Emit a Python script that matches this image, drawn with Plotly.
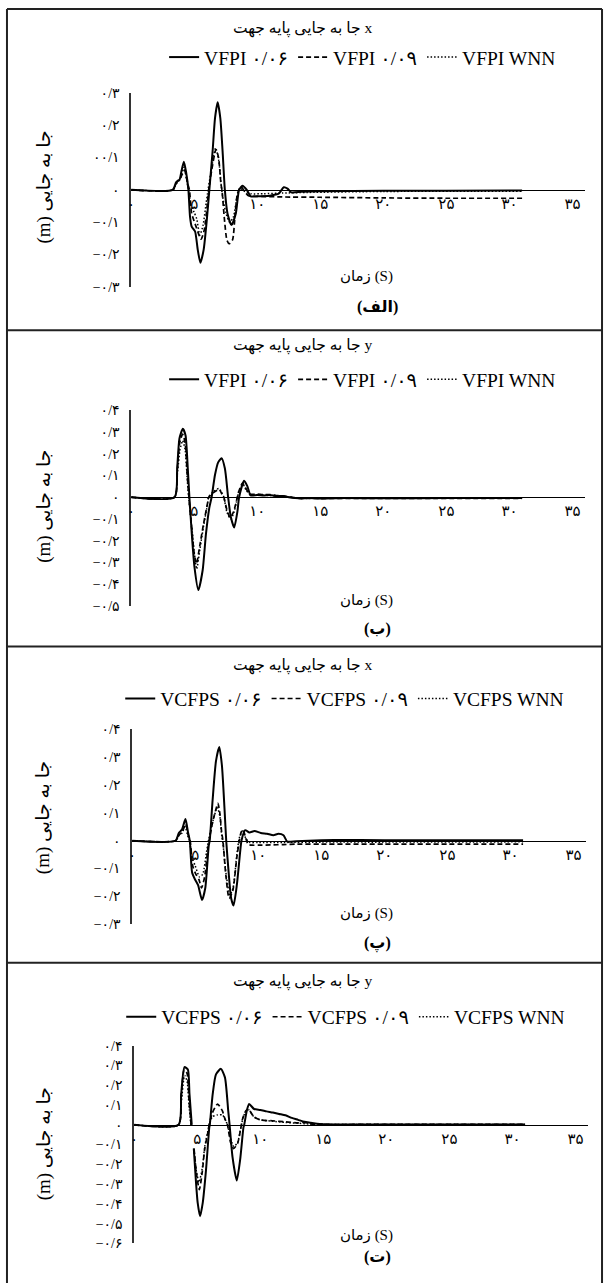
import plotly.graph_objects as go

W, H = 605, 1286

# ---------------- data (time in s, displacement in m) ----------------
# Panel (الف): VFPI, x direction
t1_s = [0, 3.3, 3.57, 3.83, 4.0, 4.18, 4.36, 4.54, 4.67, 4.8, 5.07, 5.28, 5.49, 5.75, 6.02, 6.2, 6.46, 6.65, 6.86, 7.07, 7.25, 7.43, 7.64, 7.96, 8.3, 8.56, 8.83, 9.17, 9.48, 10, 11, 11.7, 12.1, 12.4, 12.7, 13.5, 15, 20, 25, 31]
v1_s = [0, 0, 0.024, 0.031, 0.06, 0.087, 0.054, 0, -0.084, -0.114, -0.129, -0.185, -0.226, -0.185, -0.084, 0, 0.12, 0.222, 0.271, 0.222, 0.12, 0, -0.073, -0.109, -0.073, 0, 0.013, 0, -0.02, -0.02, -0.018, -0.012, 0.008, 0.004, -0.008, -0.006, -0.004, -0.003, -0.003, -0.002]
t1_d = [0, 3.3, 3.7, 3.95, 4.23, 4.49, 4.62, 4.8, 5.15, 5.54, 5.8, 6.02, 6.15, 6.38, 6.72, 6.93, 7.12, 7.2, 7.38, 7.59, 7.77, 8.04, 8.23, 8.43, 8.7, 9.0, 9.3, 10, 12, 15, 20, 25, 31]
v1_d = [0, 0, 0.03, 0.04, 0.061, 0.018, 0, -0.073, -0.114, -0.153, -0.124, -0.053, 0, 0.059, 0.125, 0.1, 0.018, 0, -0.084, -0.155, -0.167, -0.155, -0.084, -0.012, 0.01, -0.005, -0.018, -0.02, -0.022, -0.023, -0.025, -0.026, -0.026]
t1_w = [0, 3.3, 3.6, 3.9, 4.2, 4.4, 4.55, 4.75, 5.0, 5.2, 5.45, 5.7, 5.95, 6.1, 6.35, 6.7, 6.95, 7.15, 7.25, 7.5, 7.8, 8.1, 8.4, 8.65, 9.0, 9.5, 10.5, 12, 14, 20, 31]
v1_w = [0, 0, 0.02, 0.035, 0.07, 0.03, 0, -0.05, -0.07, -0.09, -0.14, -0.11, -0.04, 0, 0.06, 0.13, 0.09, 0.01, -0.02, -0.07, -0.1, -0.085, -0.02, 0.005, -0.005, -0.012, -0.012, -0.01, -0.008, -0.005, -0.004]

# Panel (ب): VFPI, y direction
t2_s = [0, 3.44, 3.65, 3.83, 4.1, 4.31, 4.49, 4.62, 4.81, 5.02, 5.33, 5.67, 5.93, 6.2, 6.38, 6.65, 6.9, 7.17, 7.43, 7.69, 7.9, 8.17, 8.43, 8.56, 8.96, 9.22, 9.48, 10, 10.5, 11, 11.5, 12, 12.5, 13, 13.5, 14, 15, 17, 20, 25, 31]
v2_s = [0, 0, 0.133, 0.27, 0.315, 0.285, 0.133, 0, -0.17, -0.32, -0.427, -0.336, -0.17, -0.048, 0, 0.103, 0.16, 0.179, 0.133, 0, -0.09, -0.139, -0.064, 0, 0.076, 0.05, 0.008, 0.01, 0.008, 0.01, 0.005, 0.006, 0, -0.004, -0.006, -0.004, -0.006, -0.004, -0.005, -0.004, -0.004]
t2_d = [0, 3.44, 3.65, 3.85, 4.08, 4.28, 4.45, 4.58, 4.8, 5.0, 5.18, 5.45, 5.75, 6.05, 6.15, 6.5, 6.98, 7.2, 7.35, 7.6, 7.85, 8.1, 8.3, 8.5, 8.83, 9.1, 9.4, 10, 10.5, 11, 11.5, 12, 12.5, 13, 13.5, 14, 15, 20, 31]
v2_d = [0, 0, 0.12, 0.25, 0.29, 0.25, 0.1, 0, -0.14, -0.26, -0.306, -0.22, -0.12, -0.03, 0, 0.02, 0.035, 0.015, 0, -0.06, -0.094, -0.07, -0.03, 0.02, 0.065, 0.04, 0.015, 0.014, 0.012, 0.012, 0.008, 0.006, 0.002, -0.003, -0.006, -0.005, -0.006, -0.005, -0.005]
t2_w = [0, 3.44, 3.65, 3.88, 4.08, 4.28, 4.45, 4.56, 4.8, 5.0, 5.2, 5.45, 5.75, 6.05, 6.15, 6.5, 6.95, 7.2, 7.35, 7.6, 7.9, 8.15, 8.35, 8.55, 8.85, 9.1, 9.4, 10, 11, 12, 13, 14, 20, 31]
v2_w = [0, 0, 0.1, 0.22, 0.26, 0.22, 0.08, 0, -0.13, -0.25, -0.33, -0.24, -0.13, -0.035, 0, 0.025, 0.04, 0.02, 0, -0.07, -0.1, -0.07, -0.02, 0.03, 0.06, 0.035, 0.012, 0.01, 0.008, 0.004, -0.002, -0.004, -0.004, -0.004]

# Panel (پ): VCFPS, x direction
t3_s = [0, 3.44, 3.7, 3.95, 4.23, 4.44, 4.57, 4.75, 4.96, 5.23, 5.54, 5.8, 6.07, 6.15, 6.38, 6.65, 6.91, 7.12, 7.33, 7.46, 7.65, 7.85, 8.04, 8.3, 8.56, 8.67, 8.96, 9.3, 9.7, 10.2, 10.7, 11.2, 11.6, 12.0, 12.3, 13, 15, 16, 20, 25, 31]
v3_s = [0, 0, 0.028, 0.04, 0.078, 0.028, 0, -0.113, -0.137, -0.16, -0.213, -0.17, -0.019, 0, 0.146, 0.287, 0.337, 0.27, 0.11, 0, -0.113, -0.207, -0.233, -0.16, -0.042, 0, 0.038, 0.03, 0.035, 0.028, 0.025, 0.02, 0.025, 0.02, -0.003, -0.002, 0.002, 0.003, 0.002, 0.002, 0.002]
t3_d = [0, 3.44, 3.7, 3.95, 4.25, 4.45, 4.6, 4.8, 5.05, 5.3, 5.5, 5.75, 6.0, 6.1, 6.4, 6.8, 6.95, 7.1, 7.2, 7.4, 7.69, 7.98, 8.3, 8.5, 8.64, 8.8, 9.0, 9.2, 9.5, 10, 11, 12, 13, 15, 20, 25, 31]
v3_d = [0, 0, 0.02, 0.03, 0.06, 0.02, 0, -0.09, -0.12, -0.14, -0.17, -0.13, -0.03, 0, 0.07, 0.134, 0.1, 0.03, 0, -0.11, -0.207, -0.18, -0.06, 0, 0.03, 0.04, 0.01, -0.013, -0.016, -0.016, -0.015, -0.014, -0.012, -0.012, -0.012, -0.012, -0.012]
t3_w = [0, 3.44, 3.7, 3.95, 4.2, 4.42, 4.55, 4.75, 5.0, 5.35, 5.6, 5.9, 6.05, 6.4, 6.75, 6.95, 7.1, 7.2, 7.45, 7.75, 8.0, 8.3, 8.5, 8.75, 9.0, 9.3, 10, 12, 15, 20, 31]
v3_w = [0, 0, 0.018, 0.028, 0.05, 0.015, 0, -0.06, -0.09, -0.13, -0.12, -0.04, 0, 0.07, 0.12, 0.09, 0.02, -0.01, -0.12, -0.195, -0.17, -0.05, 0.01, 0.035, 0.01, -0.006, -0.006, -0.006, -0.005, -0.005, -0.004]

# Panel (ت): VCFPS, y direction (None = break in the trace)
t4_s = [0, 3.52, 3.73, 3.99, 4.26, 4.39, 4.57, 4.65, 4.73, 4.91, 5.04, 5.23, 5.44, 5.7, 5.96, 6.0, 6.23, 6.49, 6.88, 7.2, 7.46, 7.57, 7.8, 8.14, 8.41, 8.67, 8.73, 8.93, 9.12, 9.51, 10, 10.5, 11, 11.5, 12, 12.5, 13, 13.5, 14, 14.5, 15, 17, 20, 25, 31]
v4_s = [0, 0, 0.155, 0.292, 0.28, 0.155, 0, None, -0.12, -0.295, -0.395, -0.462, -0.395, -0.228, -0.013, 0, 0.155, 0.255, 0.283, 0.24, 0.072, 0, -0.162, -0.282, -0.175, -0.013, 0, 0.07, 0.105, 0.08, 0.075, 0.068, 0.062, 0.055, 0.048, 0.035, 0.025, 0.015, 0.01, 0.005, 0.003, 0.002, 0.002, 0.002, 0.002]
t4_d = [0, 3.52, 3.73, 3.97, 4.2, 4.35, 4.52, 4.65, 4.75, 4.95, 5.17, 5.4, 5.6, 5.83, 5.95, 6.2, 6.62, 7.0, 7.2, 7.4, 7.65, 7.88, 8.2, 8.45, 8.6, 8.85, 9.05, 9.5, 10, 11, 12, 13, 13.5, 14, 15, 20, 31]
v4_d = [0, 0, 0.14, 0.28, 0.26, 0.13, 0, None, -0.12, -0.25, -0.328, -0.24, -0.12, -0.045, 0, 0.06, 0.105, 0.07, 0.03, 0, -0.09, -0.12, -0.095, -0.02, 0.03, 0.07, 0.08, 0.04, 0.025, 0.02, 0.015, 0.01, 0.012, 0.005, 0.002, 0.002, 0.002]
t4_w = [0, 3.52, 3.75, 4.0, 4.2, 4.35, 4.5, 4.65, 4.77, 4.95, 5.15, 5.4, 5.6, 5.85, 5.95, 6.2, 6.6, 7.0, 7.2, 7.4, 7.65, 7.9, 8.2, 8.45, 8.65, 8.9, 9.1, 9.5, 10, 11, 12, 13, 14, 15, 20, 31]
v4_w = [0, 0, 0.12, 0.25, 0.22, 0.1, 0, None, -0.14, -0.24, -0.29, -0.22, -0.11, -0.03, 0, 0.04, 0.05, 0.05, 0.03, 0, -0.07, -0.11, -0.09, -0.02, 0.04, 0.07, 0.075, 0.04, 0.025, 0.018, 0.012, 0.008, 0.004, 0.002, 0.002, 0.002]

# ---------------- labels ----------------
x_tickvals = [0, 5, 10, 15, 20, 25, 30, 35]
x_ticktext = ["۰", "۵", "۱۰", "۱۵", "۲۰", "۲۵", "۳۰", "۳۵"]

y1_vals = [-0.3, -0.2, -0.1, 0, 0.1, 0.2, 0.3]
y1_text = ["−۰/۳", "−۰/۲", "−۰/۱", "۰", "۰۰/۱", "۰/۲", "۰/۳"]
y2_vals = [-0.5, -0.4, -0.3, -0.2, -0.1, 0, 0.1, 0.2, 0.3, 0.4]
y2_text = ["−۰/۵", "−۰/۴", "−۰/۳", "−۰/۲", "−۰/۱", "۰", "۰/۱", "۰/۲", "۰/۳", "۰/۴"]
y3_vals = [-0.3, -0.2, -0.1, 0, 0.1, 0.2, 0.3, 0.4]
y3_text = ["−۰/۳", "−۰/۲", "−۰/۱", "۰", "۰/۱", "۰/۲", "۰/۳", "۰/۴"]
y4_vals = [-0.6, -0.5, -0.4, -0.3, -0.2, -0.1, 0, 0.1, 0.2, 0.3, 0.4]
y4_text = ["−۰/۶", "−۰/۵", "−۰/۴", "−۰/۳", "−۰/۲", "−۰/۱", "۰", "۰/۱", "۰/۲", "۰/۳", "۰/۴"]

titles = ["جا به جایی پایه جهت x", "جا به جایی پایه جهت y",
          "جا به جایی پایه جهت x", "جا به جایی پایه جهت y"]
panel_labels = ["(الف)", "(ب)", "(پ)", "(ت)"]
x_title = "زمان (S)"
y_title = "\u202bجا به جایی (m)\u202c"
names_vfpi = ["VFPI ۰/۰۶", "VFPI ۰/۰۹", "VFPI WNN"]
names_vcfps = ["VCFPS ۰/۰۶", "VCFPS ۰/۰۹", "VCFPS WNN"]

# ---------------- layout geometry (pixels) ----------------
panels = [
    dict(series=[(t1_s, v1_s), (t1_d, v1_d), (t1_w, v1_w)], names=names_vfpi,
         yr=[-0.3, 0.3], yv=y1_vals, yt=y1_text, top=87, bot=283, left=128, right=585,
         title_y=22, legend_y=51, legend_x=361, xt_y=273, lab_y=304, ytitle_y=182),
    dict(series=[(t2_s, v2_s), (t2_d, v2_d), (t2_w, v2_w)], names=names_vfpi,
         yr=[-0.5, 0.4], yv=y2_vals, yt=y2_text, top=408, bot=606, left=128, right=585,
         title_y=342, legend_y=377, legend_x=361, xt_y=600, lab_y=629, ytitle_y=505),
    dict(series=[(t3_s, v3_s), (t3_d, v3_d), (t3_w, v3_w)], names=names_vcfps,
         yr=[-0.3, 0.4], yv=y3_vals, yt=y3_text, top=731, bot=928, left=129, right=586,
         title_y=666, legend_y=700, legend_x=343, xt_y=917, lab_y=948, ytitle_y=820),
    dict(series=[(t4_s, v4_s), (t4_d, v4_d), (t4_w, v4_w)], names=names_vcfps,
         yr=[-0.6, 0.4], yv=y4_vals, yt=y4_text, top=1051, bot=1251, left=131, right=588,
         title_y=986, legend_y=1022, legend_x=344, xt_y=1243, lab_y=1265, ytitle_y=1150),
]

styles = [dict(color="black", width=2.0, dash="solid"),
          dict(color="black", width=1.7, dash="5px,3px"),
          dict(color="black", width=1.5, dash="1.5px,2px")]

FONT = "Liberation Serif, DejaVu Sans, serif"

def px(x):
    return x / W

def py(y):
    return 1 - y / H

fig = go.Figure()
annotations = []
layout = {}

for i, p in enumerate(panels, start=1):
    sfx = "" if i == 1 else str(i)
    leg = "legend" if i == 1 else f"legend{i}"
    for (tt, vv), nm, st in zip(p["series"], p["names"], styles):
        fig.add_trace(go.Scatter(
            x=tt, y=vv, mode="lines", name=nm, legend=leg,
            line=dict(color=st["color"], width=st["width"], dash=st["dash"],
                      shape="spline", smoothing=0.6),
            connectgaps=False, xaxis=f"x{sfx}", yaxis=f"y{sfx}",
        ))
    ydom = [py(p["bot"]), py(p["top"])]
    y0, y1 = p["yr"]
    zero_pos = ydom[0] + (0 - y0) / (y1 - y0) * (ydom[1] - ydom[0])
    layout[f"xaxis{sfx}"] = dict(
        domain=[px(p["left"]), px(p["right"])], range=[0, 36], anchor="free",
        position=zero_pos, showline=True, linecolor="black", linewidth=1.1,
        showgrid=False, zeroline=False, ticks="", tickvals=x_tickvals,
        ticktext=x_ticktext, ticklabelstandoff=0,
        tickfont=dict(family=FONT, size=15, color="black"), fixedrange=True,
    )
    layout[f"yaxis{sfx}"] = dict(
        domain=ydom, range=p["yr"], anchor=f"x{sfx}", showline=True,
        linecolor="#333333", linewidth=1.6, showgrid=False, zeroline=False,
        ticks="", tickvals=p["yv"], ticktext=p["yt"], ticklabelstandoff=7,
        tickfont=dict(family=FONT, size=14, color="black"), fixedrange=True,
    )
    layout[leg] = dict(
        orientation="h", x=px(p["legend_x"]), y=py(p["legend_y"]),
        xanchor="center", yanchor="middle", bgcolor="rgba(0,0,0,0)",
        font=dict(family=FONT, size=19.5, color="black"), itemwidth=30,
        traceorder="normal",
    )
    annotations += [
        dict(text=titles[i - 1], x=px(300), y=py(p["title_y"]), xref="paper",
             yref="paper", showarrow=False, xanchor="center", yanchor="middle",
             font=dict(family=FONT, size=15.5, color="black")),
        dict(text=x_title, x=px(365), y=py(p["xt_y"]), xref="paper", yref="paper",
             showarrow=False, xanchor="center", yanchor="middle",
             font=dict(family=FONT, size=15, color="black")),
        dict(text="<b>" + panel_labels[i - 1] + "</b>", x=px(376), y=py(p["lab_y"]),
             xref="paper", yref="paper", showarrow=False, xanchor="center",
             yanchor="middle", font=dict(family=FONT, size=16, color="black")),
        dict(text=y_title, x=px(40), y=py(p["ytitle_y"]), xref="paper",
             yref="paper", showarrow=False, textangle=-90, xanchor="center",
             yanchor="middle", font=dict(family=FONT, size=19, color="black")),
    ]

# panel frames
shapes = []
frame_lines_y = [2, 327, 647, 967]
for yy in frame_lines_y:
    shapes.append(dict(type="line", xref="paper", yref="paper", x0=px(3), x1=px(602),
                       y0=py(yy), y1=py(yy), line=dict(color="#222222", width=2)))
for xx in [3, 602]:
    shapes.append(dict(type="line", xref="paper", yref="paper", x0=px(xx), x1=px(xx),
                       y0=py(2), y1=py(H + 5), line=dict(color="#222222", width=2)))

fig.update_layout(
    width=W, height=H, margin=dict(l=0, r=0, t=0, b=0),
    paper_bgcolor="white", plot_bgcolor="white", showlegend=True,
    annotations=annotations, shapes=shapes,
    font=dict(family=FONT, color="black"),
    **layout,
)

fig.write_html("out.html")
